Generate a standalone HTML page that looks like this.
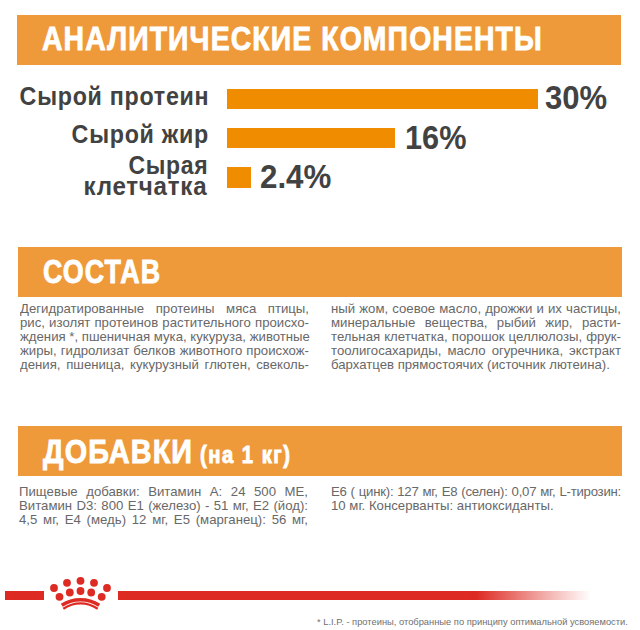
<!DOCTYPE html>
<html><head><meta charset="utf-8">
<style>
html,body{margin:0;padding:0;background:#fff;}
body{width:640px;height:630px;position:relative;overflow:hidden;font-family:"Liberation Sans",sans-serif;}
.bar{position:absolute;background:#EF9A3A;}
.t{position:absolute;white-space:nowrap;line-height:1;}
.h{color:#fff;font-weight:bold;font-size:33.4px;transform-origin:0 0;-webkit-text-stroke:0.9px #fff;}
.lbl{color:#424242;font-weight:bold;font-size:25.4px;letter-spacing:0.8px;right:433px;text-align:right;transform-origin:100% 0;}
.pct{color:#424242;font-weight:bold;font-size:33px;transform-origin:0 0;}
.ob{position:absolute;background:#F08C00;}
.col{position:absolute;color:#686868;font-size:13.5px;line-height:14.15px;transform-origin:0 0;}
.col div{text-align:justify;text-align-last:justify;white-space:nowrap;height:14.15px;}
.col div.l{text-align-last:left;}
</style></head><body>

<div class="bar" style="left:17px;top:15px;width:604px;height:50px"></div>
<div class="t h" id="h1" style="left:42px;top:21.7px;letter-spacing:1.3px;transform:scaleX(0.85)">АНАЛИТИЧЕСКИЕ КОМПОНЕНТЫ</div>

<div class="t lbl" id="l1" style="right:430.3px;top:84.3px;transform:scaleX(0.915)">Сырой протеин</div>
<div class="t lbl" id="l2" style="right:431.3px;top:121.5px;transform:scaleX(0.916)">Сырой жир</div>
<div class="t lbl" id="l3" style="right:431.3px;top:153px;transform:scaleX(0.904)">Сырая</div>
<div class="t lbl" id="l4" style="right:432.3px;top:173.8px;transform:scaleX(0.95)">клетчатка</div>

<div class="ob" style="left:227px;top:89px;width:311px;height:20px"></div>
<div class="ob" style="left:227px;top:128px;width:168px;height:20px"></div>
<div class="ob" style="left:227px;top:167px;width:24px;height:21px"></div>

<div class="t pct" id="p1" style="left:545px;top:81px;transform:scaleX(0.94)">30%</div>
<div class="t pct" id="p2" style="left:405px;top:120.5px;transform:scaleX(0.93)">16%</div>
<div class="t pct" id="p3" style="left:260px;top:159.5px;transform:scaleX(0.948)">2.4%</div>

<div class="bar" style="left:18px;top:247px;width:604px;height:50px"></div>
<div class="t h" id="h2" style="left:43px;top:255.2px;letter-spacing:1.3px;transform:scaleX(0.804)">СОСТАВ</div>

<div class="col" id="c1" style="left:20px;top:301.7px;width:295.8px;transform:scaleX(0.977)">
<div>Дегидратированные протеины мяса птицы,</div>
<div>рис, изолят протеинов растительного происхо-</div>
<div>ждения *, пшеничная мука, кукуруза, животные</div>
<div>жиры, гидролизат белков животного происхож-</div>
<div>дения, пшеница, кукурузный глютен, свеколь-</div>
</div>
<div class="col" id="c2" style="left:331px;top:301.7px;width:296.8px;transform:scaleX(0.977)">
<div>ный жом, соевое масло, дрожжи и их частицы,</div>
<div>минеральные вещества, рыбий жир, расти-</div>
<div>тельная клетчатка, порошок целлюлозы, фрук-</div>
<div>тоолигосахариды, масло огуречника, экстракт</div>
<div class="l">бархатцев прямостоячих (источник лютеина).</div>
</div>

<div class="bar" style="left:18px;top:426px;width:604px;height:50px"></div>
<div class="t h" id="h3" style="left:42.8px;top:435px;letter-spacing:1.3px;transform:scaleX(0.862)">ДОБАВКИ</div>
<div class="t h" id="h3b" style="left:199.5px;top:444px;font-size:23px;letter-spacing:1.7px;transform:scale(0.88,1)">(на 1 кг)</div>

<div class="col" id="c3" style="left:19px;top:484.5px;width:295.8px;transform:scaleX(0.977)">
<div>Пищевые добавки: Витамин A: 24 500 ME,</div>
<div>Витамин D3: 800 E1 (железо) - 51 мг, E2 (йод):</div>
<div>4,5 мг, E4 (медь) 12 мг, E5 (марганец): 56 мг,</div>
</div>
<div class="col" id="c4" style="left:331px;top:484.5px;width:296.8px;transform:scaleX(0.977)">
<div style="letter-spacing:-0.25px">E6 ( цинк): 127 мг, E8 (селен): 0,07 мг, L-тирозин:</div>
<div class="l">10 мг. Консерванты: антиоксиданты.</div>
</div>

<!-- footer -->
<div style="position:absolute;left:5px;top:591px;width:39px;height:9px;background:#DD2A22"></div>
<div style="position:absolute;left:118px;top:591px;width:480px;height:9px;background:linear-gradient(to right,#DD2A22 0,#DD2A22 358px,rgba(221,42,34,0.4) 425px,rgba(221,42,34,0) 473px)"></div>
<svg style="position:absolute;left:0;top:0" width="640" height="630" viewBox="0 0 640 630">
<g fill="#DD2A22">
<circle cx="54" cy="588" r="3.9"/>
<circle cx="67" cy="582.8" r="3.9"/>
<circle cx="80.5" cy="580.8" r="3.9"/>
<circle cx="94" cy="582.8" r="3.9"/>
<circle cx="107" cy="588" r="3.9"/>
<circle cx="59.5" cy="596.8" r="3.9"/>
<circle cx="69.8" cy="592.5" r="3.9"/>
<circle cx="80.5" cy="591" r="3.9"/>
<circle cx="91.2" cy="592.5" r="3.9"/>
<circle cx="101.7" cy="596.8" r="3.9"/>
</g>
<g fill="none" stroke="#DD2A22">
<path d="M61.8 605.3 A34 34 0 0 1 99.2 605.3" stroke-width="3.6"/>
<path d="M63.3 608.75 A30.3 30.3 0 0 1 97.7 608.75" stroke-width="2.3"/>
</g>
</svg>
<div class="t" id="fn" style="left:316.5px;top:617.4px;font-size:9.6px;color:#707070;transform:scaleX(0.973);transform-origin:0 0">* L.I.P. - протеины, отобранные по принципу оптимальной усвояемости.</div>

</body></html>
